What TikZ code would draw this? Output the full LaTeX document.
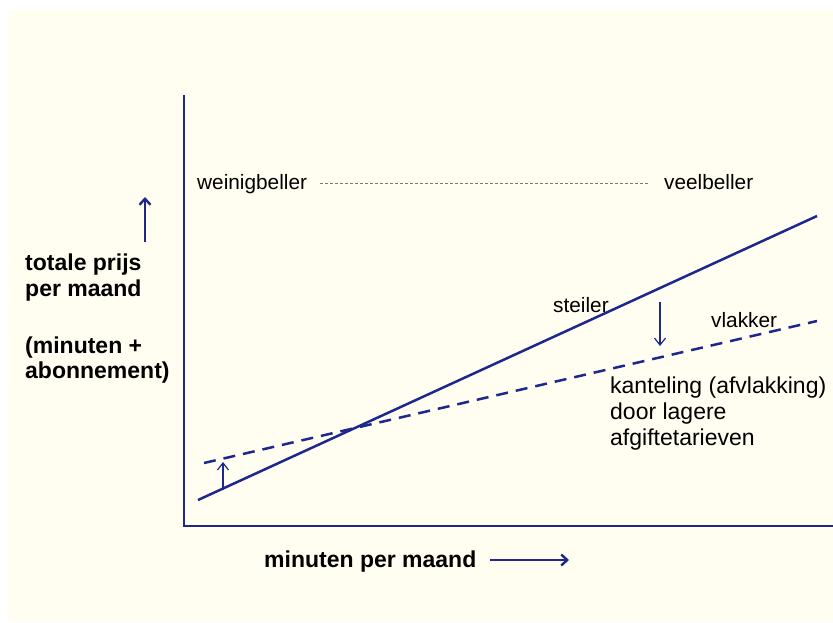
\documentclass[tikz,border=0pt]{standalone}
\usepackage{fontspec}
\setmainfont{Liberation Sans}
\usetikzlibrary{arrows.meta}
\definecolor{navy}{RGB}{30,40,140}
\definecolor{cream}{RGB}{255,254,240}
\definecolor{guide}{RGB}{120,120,120}
\begin{document}
\begin{tikzpicture}[x=1pt,y=-1pt,
  axisline/.style={navy,line width=1.5pt},
  price/.style={navy,line width=2.5pt},
  thinarrow/.style={navy,line width=1.2pt,-{Straight Barb[length=7pt,width=11pt]}},
  boldarrow/.style={navy,line width=2.4pt,-{Straight Barb[length=6pt,width=11pt]}},
  small/.style={font=\fontsize{20.8}{24}\selectfont,inner sep=0pt,anchor=base west},
  big/.style={font=\fontsize{23}{26}\selectfont,inner sep=0pt,anchor=base west},
  bigbold/.style={font=\fontsize{23}{26}\selectfont\bfseries,inner sep=0pt,anchor=base west}]
% page and slide background
\useasboundingbox (0,0) rectangle (833,622);
\fill[white] (0,0) rectangle (833,622);
\fill[cream] (8,10) rectangle (833,622);

% axes
\coordinate (ytop) at (184,95);
\coordinate (origin) at (184,526);
\coordinate (xend) at (833,526);
\draw[axisline] (ytop) -- (origin) -- (xend);

% calling profile scale
\node[small] (weinig) at (197,189) {weinigbeller};
\node[small] (veel) at (664,189) {veelbeller};
\coordinate (g1) at (320,183.5);
\coordinate (g2) at (649,183.5);
\draw[guide,line width=0.8pt,dash pattern=on 3pt off 2pt] (g1) -- (g2);

% price lines
\coordinate (s0) at (198,500);
\coordinate (s1) at (817,216);
\coordinate (f0) at (204,463);
\coordinate (f1) at (817,321);
\draw[price] (s0) -- (s1);
\draw[price,dash pattern=on 12pt off 8pt] (f0) -- (f1);

% tilt arrows
\coordinate (u0) at (223,490);
\coordinate (u1) at (223,462);
\draw[thinarrow] (u0) -- (u1);
\coordinate (d0) at (660,302);
\coordinate (d1) at (660,346);
\draw[thinarrow] (d0) -- (d1);

% line labels
\node[small] (steil) at (553,312) {steiler};
\node[small] (vlak) at (711,327) {vlakker};
\node[big] (kant1) at (610,393) {kanteling (afvlakking)};
\node[big] (kant2) at (610,419) {door lagere};
\node[big] (kant3) at (610,445) {afgiftetarieven};

% axis titles
\node[bigbold] (ylab1) at (25,270) {totale prijs};
\node[bigbold] (ylab2) at (25,296) {per maand};
\node[bigbold] (ylab3) at (25,353) {(minuten +};
\node[bigbold] (ylab4) at (25,378) {abonnement)};
\coordinate (ya0) at (145,242);
\coordinate (ya1) at (145,197);
\draw[boldarrow] (ya0) -- (ya1);
\node[bigbold] (xlab) at (264,567) {minuten per maand};
\coordinate (xa0) at (490,560);
\coordinate (xa1) at (569,560);
\draw[boldarrow] (xa0) -- (xa1);
\end{tikzpicture}
\end{document}
